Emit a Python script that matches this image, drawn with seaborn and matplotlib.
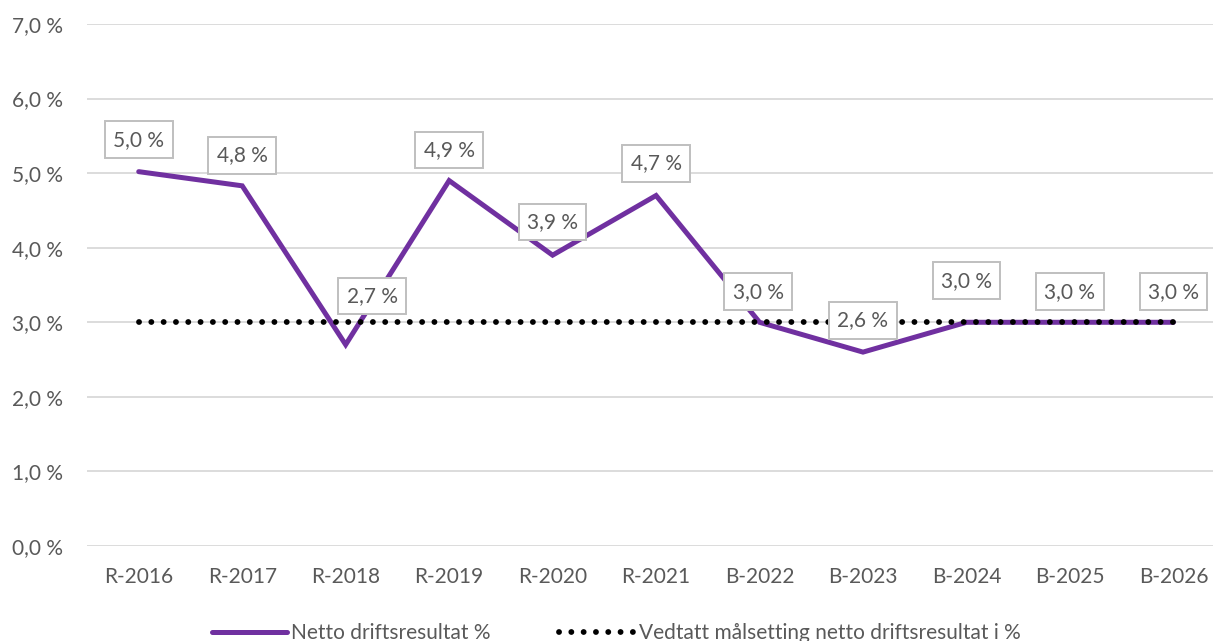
import matplotlib
matplotlib.use("Agg")
import matplotlib.pyplot as plt
import seaborn as sns
import pandas as pd

categories = ["R-2016", "R-2017", "R-2018", "R-2019", "R-2020", "R-2021",
              "B-2022", "B-2023", "B-2024", "B-2025", "B-2026"]
netto = [5.02, 4.83, 2.7, 4.9, 3.9, 4.7, 3.0, 2.6, 3.0, 3.0, 3.0]
netto_labels = ["5,0 %", "4,8 %", "2,7 %", "4,9 %", "3,9 %", "4,7 %",
                "3,0 %", "2,6 %", "3,0 %", "3,0 %", "3,0 %"]
maal = [3.0] * 11
yticks = [0, 1, 2, 3, 4, 5, 6, 7]
ytick_labels = ["0,0 %", "1,0 %", "2,0 %", "3,0 %", "4,0 %", "5,0 %", "6,0 %", "7,0 %"]

sns.set_theme(style="white")
plt.rcParams['font.family'] = ['Lato', 'DejaVu Sans']

df = pd.DataFrame({"kat": categories, "netto": netto, "maal": maal, "x": range(len(categories))})

fig = plt.figure(figsize=(12.13, 6.41), dpi=100)
ax = fig.add_axes([87/1213, 95/641, 1 - 87/1213 + 0.01, (546 - 24)/641])

purple = "#7030A0"
grey_txt = "#595959"
fs = 15

sns.lineplot(data=df, x="x", y="netto", ax=ax, color=purple, lw=3.6,
             solid_capstyle="round", solid_joinstyle="miter", label="Netto driftsresultat %", zorder=3)
sns.lineplot(data=df, x="x", y="maal", ax=ax, color="black", lw=4.2,
             linestyle=(0, (0.01, 2.1)), dash_capstyle="round",
             label="Vedtatt målsetting netto driftsresultat i %", zorder=4)

ax.set_ylim(0, 7)
ax.set_xlim(-0.5, 10.5)
ax.set_yticks(yticks)
ax.set_yticklabels(ytick_labels)
ax.set_xticks(range(len(categories)))
ax.set_xticklabels(categories)
ax.tick_params(axis="both", colors=grey_txt, labelsize=fs, length=0)
ax.tick_params(axis="x", pad=15)
ax.tick_params(axis="y", pad=17)
ax.grid(axis="y", color="#D9D9D9", lw=1.3)
ax.set_axisbelow(True)
for s in ax.spines.values():
    s.set_visible(False)
ax.set_xlabel("")
ax.set_ylabel("")

# label offsets in points (dx, dy)
offsets = [(0, 23), (0, 22), (19, 35), (0, 22), (0, 24), (0, 23),
           (-1, 22), (0, 23), (0, 30), (0, 22), (0, 22)]
for i, (v, t) in enumerate(zip(netto, netto_labels)):
    dx, dy = offsets[i]
    ax.annotate(t, (i, v), xytext=(dx, dy), textcoords="offset points",
                ha="center", va="center", fontsize=fs, color=grey_txt, zorder=6,
                bbox=dict(boxstyle="square,pad=0.4", fc="white", ec="#BFBFBF", lw=1.4))

leg = ax.legend(loc="upper center", bbox_to_anchor=(0.465, -0.112), ncol=2,
                frameon=False, fontsize=fs, handlelength=3.6, handletextpad=0.2,
                columnspacing=3.3)
for txt in leg.get_texts():
    txt.set_color(grey_txt)

fig.savefig("out.png", dpi=100)
